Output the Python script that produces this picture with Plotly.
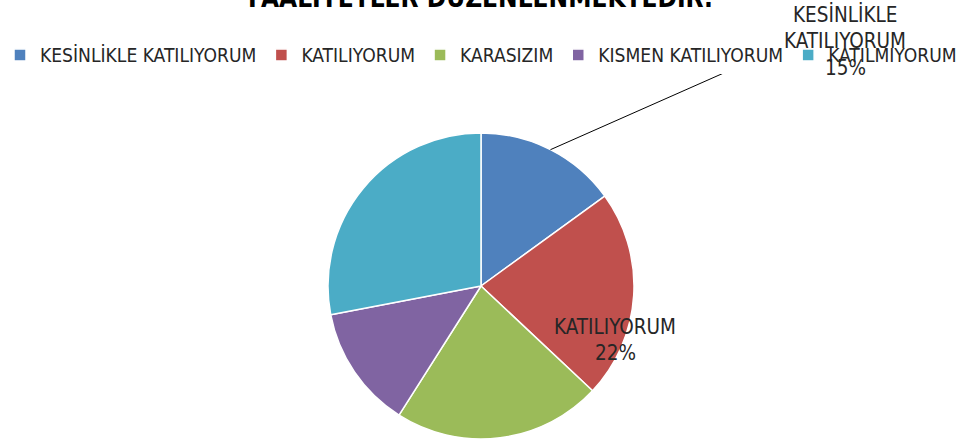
import math
import plotly.graph_objects as go

# ---- data ----
labels = ["KESİNLİKLE KATILIYORUM", "KATILIYORUM", "KARASIZIM", "KISMEN KATILIYORUM", "KATILMIYORUM"]
values = [15, 22, 22, 13, 28]
colors = ["#4F81BD", "#C0504D", "#9BBB59", "#8064A2", "#4BACC6"]
title_text = "FAALİYETLER DÜZENLENMEKTEDİR."

W, H = 960, 446
FONT = "Liberation Sans Narrow, DejaVu Sans Condensed, Liberation Sans, Arial, sans-serif"

def px(x):  # page x -> paper fraction
    return x / W

def py(y):  # page y -> paper fraction
    return 1 - y / H

# pie domain (paper fractions): center (481, 286), radius 153
dom_x = [px(481) - 0.3, px(481) + 0.3]
dom_y = [py(286 + 153), py(286 - 153)]

fig = go.Figure(go.Pie(
    labels=labels,
    values=values,
    marker=dict(colors=colors, line=dict(color="white", width=1.5)),
    sort=False,
    direction="clockwise",
    rotation=0,
    textinfo="none",
    hoverinfo="label+percent",
    domain=dict(x=dom_x, y=dom_y),
))

# pie geometry in figure pixels (margins are zero)
cx = (dom_x[0] + dom_x[1]) / 2 * W
cy = (1 - (dom_y[0] + dom_y[1]) / 2) * H
r = min((dom_x[1] - dom_x[0]) * W, (dom_y[1] - dom_y[0]) * H) / 2
total = sum(values)

def edge_point(i, frac=1.0):
    cum = sum(values[:i]) + values[i] / 2
    th = 2 * math.pi * cum / total
    return cx + frac * r * math.sin(th), cy - frac * r * math.cos(th)

def pct(i):
    return f"{round(100 * values[i] / total)}%"

ann_font = dict(family=FONT, size=20.5, color="#262626")
annotations = []

# title (partly cut off at the top, as in the reference)
annotations.append(dict(x=px(480), y=py(-3), xref="paper", yref="paper",
                        text=f"<b>{title_text}</b>", showarrow=False,
                        font=dict(family=FONT, size=26, color="#000000"),
                        xanchor="center", yanchor="middle"))

# label for slice 0 (outside with leader line)
words0 = labels[0].split(" ")
for k, txt in enumerate(words0 + [pct(0)]):
    annotations.append(dict(x=px(845), y=py(15 + 26.5 * k), xref="paper", yref="paper",
                            text=txt, showarrow=False, font=ann_font,
                            xanchor="center", yanchor="middle"))
ex, ey = edge_point(0)
shapes = [dict(type="line", xref="paper", yref="paper",
               x0=ex / W, y0=1 - ey / H, x1=px(778), y1=py(49),
               line=dict(color="#000000", width=1))]

# label for slice 1 (inside)
for k, txt in enumerate([labels[1], pct(1)]):
    annotations.append(dict(x=px(615), y=py(327 + 26 * k), xref="paper", yref="paper",
                            text=txt, showarrow=False, font=ann_font,
                            xanchor="center", yanchor="middle"))

fig.update_layout(
    width=W, height=H,
    margin=dict(l=0, r=0, t=0, b=0),
    paper_bgcolor="white",
    plot_bgcolor="white",
    legend=dict(orientation="h", x=px(482), xanchor="center", y=py(55), yanchor="middle",
                font=dict(family=FONT, size=19.1, color="#262626"),
                itemclick=False, itemdoubleclick=False),
    annotations=annotations,
    shapes=shapes,
)

fig.write_html("out.html", config={"displayModeBar": False},
               post_script="document.body.style.margin='0';")
